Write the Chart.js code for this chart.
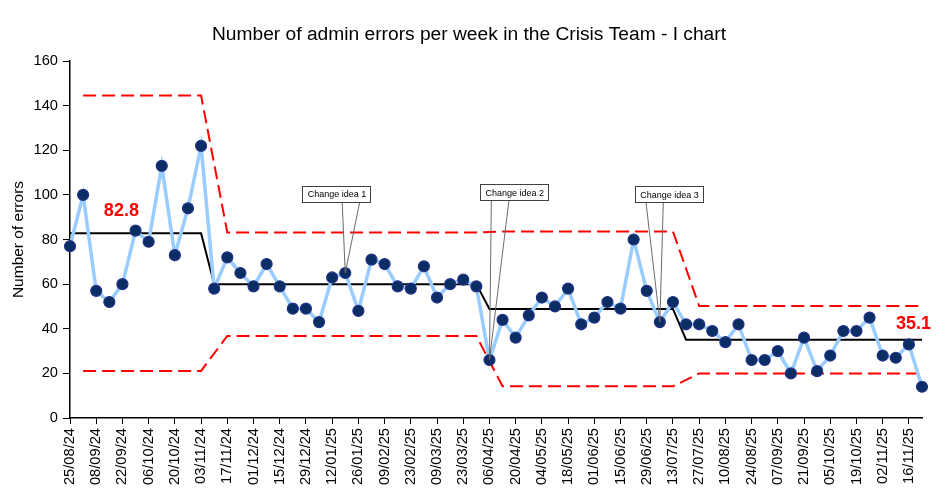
<!DOCTYPE html>
<html>
<head>
<meta charset="utf-8">
<script src="https://cdn.jsdelivr.net/npm/chart.js@4.4.1/dist/chart.umd.min.js"></script>
<style>
html,body{margin:0;padding:0;background:#fff;}
#wrap{width:950px;height:500px;position:relative;}
</style>
</head>
<body>
<div id="wrap"><canvas id="c" width="950" height="500"></canvas></div>
<script>
// ---- Data ----
const weeks = [
  '25/08/24','01/09/24','08/09/24','15/09/24','22/09/24','29/09/24','06/10/24','13/10/24','20/10/24','27/10/24',
  '03/11/24','10/11/24','17/11/24','24/11/24','01/12/24','08/12/24','15/12/24','22/12/24','29/12/24','05/01/25',
  '12/01/25','19/01/25','26/01/25','02/02/25','09/02/25','16/02/25','23/02/25','02/03/25','09/03/25','16/03/25',
  '23/03/25','30/03/25','06/04/25','13/04/25','20/04/25','27/04/25','04/05/25','11/05/25','18/05/25','25/05/25',
  '01/06/25','08/06/25','15/06/25','22/06/25','29/06/25','06/07/25','13/07/25','20/07/25','27/07/25','03/08/25',
  '10/08/25','17/08/25','24/08/25','31/08/25','07/09/25','14/09/25','21/09/25','28/09/25','05/10/25','12/10/25',
  '19/10/25','26/10/25','02/11/25','09/11/25','16/11/25','23/11/25'
];
const errors = [
  77,100,57,52,60,84,79,113,73,94,
  122,58,72,65,59,69,59,49,49,43,
  63,65,48,71,69,59,58,68,54,60,
  62,59,26,44,36,46,54,50,58,42,
  45,52,49,80,57,43,52,42,42,39,
  34,42,26,26,30,20,36,21,28,39,
  39,45,28,27,33,14
];
// Phases of the I chart (first and last week index of each phase)
const phaseStart = [0, 11, 32, 47];
const phaseEnd   = [10, 31, 46, 65];
const phaseMean  = [82.8, 60.0, 48.9, 35.1];
const phaseUpper = [144.5, 83.2, 83.6, 50.2];
const phaseLower = [21.1, 36.8, 14.2, 20.0];

const changeIdeas = ['Change idea 1', 'Change idea 2', 'Change idea 3'];
const changeWeek  = [21, 32, 45];

const meanLabels = ['82.8', '35.1'];

// ---- Build series ----
const centre = weeks.map(() => null);
const upper = weeks.map(() => null);
const lower = weeks.map(() => null);
phaseStart.forEach((s, p) => {
  for (let i = s; i <= phaseEnd[p]; i++) {
    centre[i] = phaseMean[p];
    if (i > s) { upper[i] = phaseUpper[p]; lower[i] = phaseLower[p]; }
  }
});
const pts = arr => arr.map((v, i) => ({x: i, y: v}));

// ---- Annotation placement (data coordinates) ----
const textPlacement = [{x: 3.92, y: 92.9}, {x: 64.35, y: 41.9}];
const calloutPlacement = [
  {x: 20.33, y: 100.5, base: [5.7, 23.3]},
  {x: 33.9,  y: 101.1, base: [-23, -5.4]},
  {x: 45.7,  y: 100.2, base: [-23, -5.7]}
];

const FONT = '"Liberation Sans", Arial, Helvetica, sans-serif';
Chart.defaults.font.family = FONT;
Chart.defaults.color = '#000';

const annotationPlugin = {
  id: 'annot',
  afterDatasetsDraw(chart) {
    const ctx = chart.ctx, xs = chart.scales.x, ys = chart.scales.y;
    ctx.save();
    // callouts
    changeIdeas.forEach((txt, k) => {
      const pl = calloutPlacement[k];
      const cx = xs.getPixelForValue(pl.x), cy = ys.getPixelForValue(pl.y);
      const w = 68, h = 16;
      const tx = xs.getPixelForValue(changeWeek[k]);
      const ty = ys.getPixelForValue(errors[changeWeek[k]]);
      ctx.strokeStyle = '#6b6b6b';
      ctx.lineWidth = 1;
      ctx.beginPath();
      ctx.moveTo(cx + pl.base[0], cy + h / 2);
      ctx.lineTo(tx, ty);
      ctx.lineTo(cx + pl.base[1], cy + h / 2);
      ctx.stroke();
      ctx.fillStyle = '#fff';
      ctx.fillRect(Math.round(cx - w / 2) + 0.5, Math.round(cy - h / 2) + 0.5, w, h);
      ctx.strokeStyle = '#404040';
      ctx.strokeRect(Math.round(cx - w / 2) + 0.5, Math.round(cy - h / 2) + 0.5, w, h);
      ctx.fillStyle = '#000';
      ctx.font = '9px ' + FONT;
      ctx.textAlign = 'center';
      ctx.textBaseline = 'middle';
      ctx.fillText(txt, cx + 0.5, cy + 1);
    });
    // mean labels
    meanLabels.forEach((t, k) => {
      const p = textPlacement[k];
      ctx.fillStyle = '#FF0000';
      ctx.font = 'bold 18px ' + FONT;
      ctx.textAlign = 'center';
      ctx.textBaseline = 'middle';
      ctx.fillText(t, xs.getPixelForValue(p.x), ys.getPixelForValue(p.y));
    });
    ctx.restore();
  }
};

new Chart(document.getElementById('c'), {
  type: 'line',
  data: {
    datasets: [
      {
        label: 'Errors', data: pts(errors),
        borderColor: '#99CCFF', borderWidth: 3.5,
        pointRadius: 5.5, pointBackgroundColor: '#0A2D64', pointBorderColor: '#22338A', pointBorderWidth: 1.2,
        tension: 0, clip: false
      },
      {
        label: 'Mean', data: pts(centre), borderColor: '#000', borderWidth: 2,
        pointRadius: 0, tension: 0, clip: false
      },
      {
        label: 'UCL', data: pts(upper), borderColor: '#FF0000', borderWidth: 2, borderDash: [13, 6],
        pointRadius: 0, tension: 0, spanGaps: true, clip: false
      },
      {
        label: 'LCL', data: pts(lower), borderColor: '#FF0000', borderWidth: 2, borderDash: [13, 6],
        pointRadius: 0, tension: 0, spanGaps: true, clip: false
      }
    ]
  },
  options: {
    responsive: false,
    animation: false,
    devicePixelRatio: 1,
    layout: {padding: {left: 16, right: 28, top: 0, bottom: 0}},
    plugins: {
      legend: {display: false},
      tooltip: {enabled: false},
      title: {
        display: true,
        text: 'Number of admin errors per week in the Crisis Team - I chart',
        font: {size: 19.2, weight: 'normal'},
        color: '#000',
        padding: {top: 23.5, bottom: 14.5}
      }
    },
    scales: {
      x: {
        type: 'linear', min: 0, max: weeks.length - 1,
        border: {display: true, color: '#000', width: 1.5},
        grid: {display: true, drawOnChartArea: false, color: '#000', tickLength: 6, lineWidth: 1},
        ticks: {
          stepSize: 2, autoSkip: false, includeBounds: false,
          maxRotation: 90, minRotation: 90, padding: 4,
          font: {size: 14.67}, color: '#000',
          callback: v => weeks[v]
        },
        afterFit: s => { s.height = 82; }
      },
      y: {
        min: 0, max: 160,
        border: {display: true, color: '#000', width: 1.5},
        grid: {display: true, drawOnChartArea: false, color: '#000', tickLength: 7, lineWidth: 1},
        ticks: {stepSize: 20, padding: 5, font: {size: 14.67}, color: '#000'},
        title: {display: true, text: 'Number of errors', font: {size: 15.5}, color: '#000', padding: {top: -7, bottom: 0}},
        afterFit: s => { s.width = 54; }
      }
    }
  },
  plugins: [annotationPlugin]
});
</script>
</body>
</html>
